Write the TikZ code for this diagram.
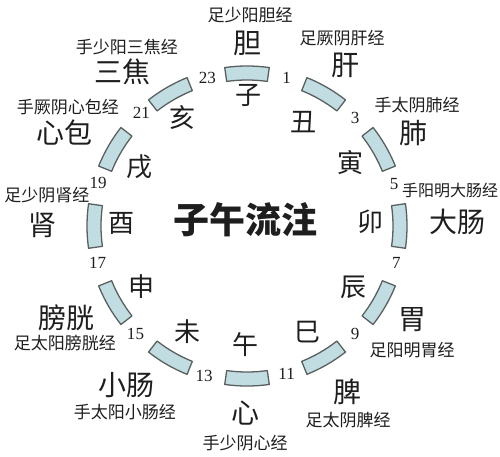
\documentclass[tikz,border=0pt]{standalone}
\usepackage{fontspec}
\setmainfont{Liberation Serif}
\newfontfamily\cjk{Noto Sans CJK SC}
\usepackage{xcolor}
\usepackage{tikz}
\usetikzlibrary{positioning}
\definecolor{barfill}{HTML}{C2DDE1}
\definecolor{barline}{HTML}{5A5F60}
\definecolor{ink}{HTML}{1E1E1E}
\newcommand{\hourbar}[1]{\draw[bar] (#1-8:146pt) arc[start angle=#1-8, end angle=#1+8, radius=146pt] -- (#1+8:160pt) arc[start angle=#1+8, end angle=#1-8, radius=160pt] -- cycle;}

\begin{document}
\begin{tikzpicture}[
    x=1pt, y=1pt,
    every node/.style={inner sep=0pt, text=ink},
    bar/.style={draw=barline, fill=barfill, line width=1.3pt, line join=round},
    branch/.style={font=\cjk\fontsize{26}{26}\selectfont},
    organ/.style={font=\cjk\fontsize{28}{28}\selectfont},
    meridian/.style={font=\cjk\fontsize{17}{17}\selectfont},
    hour/.style={font=\fontsize{17}{17}\selectfont},
    title/.style={font=\cjk\bfseries\fontsize{36}{36}\selectfont}
]
\fill[white] (-247,-230) rectangle (253,226);
\useasboundingbox (-247,-230) rectangle (253,226);
% hour bars
\hourbar{90}
\hourbar{60}
\hourbar{30}
\hourbar{0}
\hourbar{-30}
\hourbar{-60}
\hourbar{-90}
\hourbar{-120}
\hourbar{-150}
\hourbar{180}
\hourbar{150}
\hourbar{120}
% title
\node[title] (title) at (-2,6) {子午流注};
% hours
\node[hour] (h1) at (75:153) {1};
\node[hour] (h3) at (45:153) {3};
\node[hour] (h5) at (16:153) {5};
\node[hour] (h7) at (-14:154) {7};
\node[hour] (h9) at (-45:153) {9};
\node[hour] (h11) at (-75:153) {11};
\node[hour] (h13) at (-106:156) {13};
\node[hour] (h15) at (-136:155) {15};
\node[hour] (h17) at (-166:154) {17};
\node[hour] (h19) at (164:155) {19};
\node[hour] (h21) at (133:155) {21};
\node[hour] (h23) at (105:153) {23};
% branches
\node[branch] (zi) at (1,131) {子};
\node[branch] (chou) at (56,104) {丑};
\node[branch] (yin) at (103,63) {寅};
\node[branch] (mao) at (123,4) {卯};
\node[branch] (chen) at (106,-61) {辰};
\node[branch] (si) at (60,-106) {巳};
\node[branch] (wu) at (-2,-119) {午};
\node[branch] (wei) at (-59,-106) {未};
\node[branch] (shen) at (-105,-61) {申};
\node[branch] (you) at (-125,3) {酉};
\node[branch] (xu) at (-107,59) {戌};
\node[branch] (hai) at (-64,108) {亥};
% organs
\node[organ] (dan) at (0,183) {胆};
\node[organ] (gan) at (98,161) {肝};
\node[organ] (fei) at (166,93) {肺};
\node[organ] (dachang) at (210,4) {大肠};
\node[organ] (weiorgan) at (165,-94) {胃};
\node[organ] (pi) at (100,-166) {脾};
\node[organ] (xin) at (-2,-187) {心};
\node[organ] (xiaochang) at (-120,-159) {小肠};
\node[organ] (pangguang) at (-180,-92) {膀胱};
\node[organ] (shenorgan) at (-204,1) {肾};
\node[organ] (xinbao) at (-182,93) {心包};
\node[organ] (sanjiao) at (-124,154) {三焦};
% meridians
\node[meridian] (mdan) at (3,211) {足少阳胆经};
\node[meridian] (mgan) at (95,188) {足厥阴肝经};
\node[meridian] (mfei) at (170,121) {手太阴肺经};
\node[meridian, font=\cjk\fontsize{16}{16}\selectfont] (mdachang) at (203,36) {手阳明大肠经};
\node[meridian] (mwei) at (165,-124) {足阳明胃经};
\node[meridian] (mpi) at (101,-194) {足太阴脾经};
\node[meridian] (mxin) at (-2,-217) {手少阴心经};
\node[meridian] (mxiaochang) at (-122,-186) {手太阳小肠经};
\node[meridian] (mpangguang) at (-182,-117) {足太阳膀胱经};
\node[meridian] (mshen) at (-200,31) {足少阴肾经};
\node[meridian] (mxinbao) at (-179,119) {手厥阴心包经};
\node[meridian] (msanjiao) at (-120,179) {手少阳三焦经};
\end{tikzpicture}
\end{document}
